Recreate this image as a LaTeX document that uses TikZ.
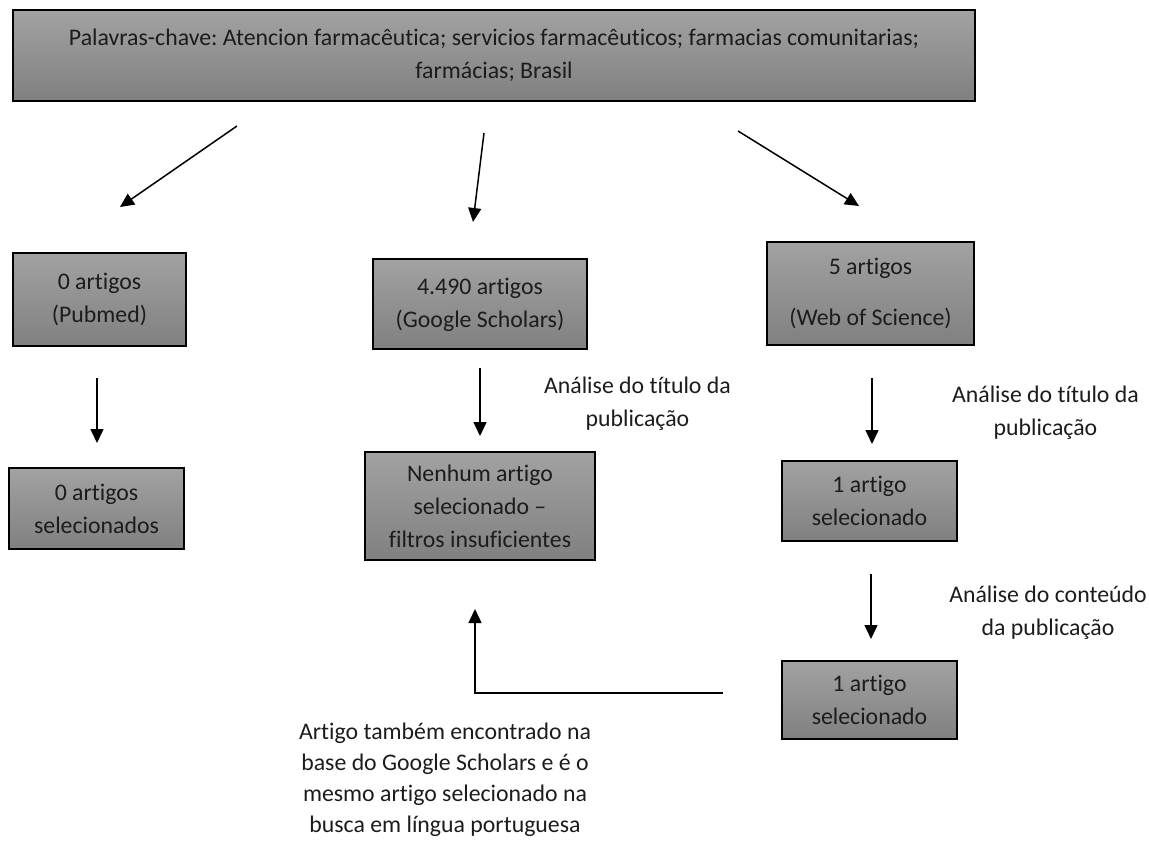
\documentclass[tikz,border=0pt]{standalone}
\usepackage{fontspec}
\setmainfont{Carlito}[Ligatures=NoCommon]
\usetikzlibrary{arrows.meta}
\definecolor{btop}{RGB}{162,162,162}
\definecolor{bbot}{RGB}{128,128,128}
\definecolor{txt}{RGB}{28,28,28}
\newcommand{\rtab}[2]{\raisebox{#1}{\begin{tabular}{@{}c@{}}#2\end{tabular}}}
\frenchspacing
\begin{document}
\begin{tikzpicture}[x=1pt,y=-1pt,
  txtfont/.style={font=\fontsize{23.8}{33}\selectfont, text=txt},
  box/.style={draw=black, line width=1.5pt, top color=btop, bottom color=bbot,
    align=center, inner sep=0pt, txtfont},
  lbl/.style={align=center, inner sep=0pt, txtfont},
  arr/.style={line width=1.5pt, draw=black, -{Triangle[length=14pt,width=13pt]}}]
\useasboundingbox (0,0) rectangle (1149,841);

% boxes
\node[box, minimum width=962pt, minimum height=91pt] (kw) at (494,55.5)
  {\rtab{5pt}{Palavras-chave: Atencion farmacêutica; servicios farmacêuticos; farmacias comunitarias;\\farmácias; Brasil}};
\node[box, minimum width=173pt, minimum height=93pt] (pub) at (99.5,299.5)
  {\rtab{5pt}{0 artigos\\(Pubmed)}};
\node[box, minimum width=175pt, minimum height=81pt] (pubsel) at (96.5,508.5)
  {0 artigos\\selecionados};
\node[box, minimum width=214pt, minimum height=90pt] (goo) at (480,304)
  {\rtab{2pt}{4.490 artigos\\(Google Scholars)}};
\node[box, minimum width=230pt, minimum height=108pt] (goosel) at (480,506)
  {Nenhum artigo\\selecionado –\\filtros insuficientes};
\node[box, minimum width=207pt, minimum height=103pt] (wos) at (870.5,293.5)
  {5 artigos\\[18pt](Web of Science)};
\node[box, minimum width=175pt, minimum height=80pt] (wossel) at (869.5,501)
  {1 artigo\\selecionado};
\node[box, minimum width=175pt, minimum height=78pt] (wosfin) at (869.5,700)
  {1 artigo\\selecionado};

% labels
\node[lbl] (lg) at (637.5,404) {Análise do título da\\publicação};
\node[lbl] (lw) at (1045.5,413) {Análise do título da\\publicação};
\node[lbl] (lc) at (1048,613) {Análise do conteúdo\\da publicação};
\node[lbl, font=\fontsize{23.8}{31}\selectfont] (lb) at (445,780) {Artigo também encontrado na\\base do Google Scholars e é o\\mesmo artigo selecionado na\\busca em língua portuguesa};

% arrow end points
\coordinate (d1s) at (237,126); \coordinate (d1e) at (120,207);
\coordinate (d2s) at (484,133); \coordinate (d2e) at (473,222);
\coordinate (d3s) at (738,131); \coordinate (d3e) at (859,206);
\coordinate (p1s) at (97,378);  \coordinate (p1e) at (97,443);
\coordinate (g1s) at (480,368); \coordinate (g1e) at (480,436);
\coordinate (w1s) at (872,378); \coordinate (w1e) at (872,444);
\coordinate (w2s) at (871,574); \coordinate (w2e) at (871,639);
\coordinate (es) at (723,693); \coordinate (ec) at (475,693); \coordinate (ee) at (475,609);

\draw[arr] (d1s) -- (d1e);
\draw[arr] (d2s) -- (d2e);
\draw[arr] (d3s) -- (d3e);
\draw[arr] (p1s) -- (p1e);
\draw[arr] (g1s) -- (g1e);
\draw[arr] (w1s) -- (w1e);
\draw[arr] (w2s) -- (w2e);
\draw[arr] (es) -- (ec) -- (ee);
\end{tikzpicture}
\end{document}
